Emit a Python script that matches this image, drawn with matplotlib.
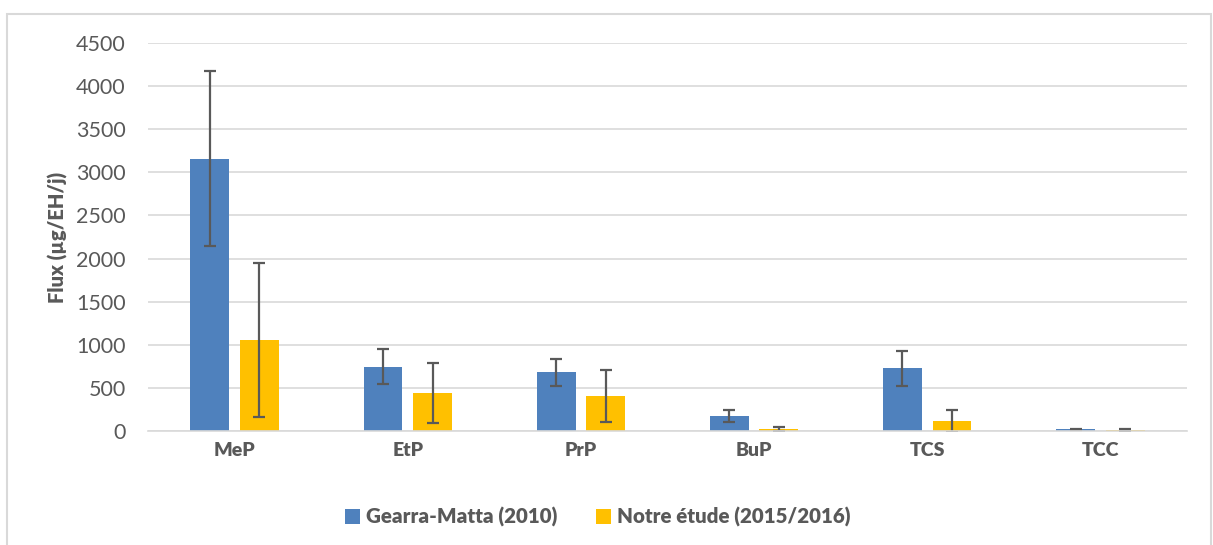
import numpy as np
import matplotlib.pyplot as plt
import matplotlib.patches as patches

plt.rcParams['font.family'] = ['Lato', 'DejaVu Sans']

# Mean flux per compound and standard deviation for each study
categories = ["MeP", "EtP", "PrP", "BuP", "TCS", "TCC"]
gearra_mean = [3160, 748, 683, 175, 725, 22]
gearra_err = [1015, 203, 157, 74, 203, 5]
notre_mean = [1058, 443, 403, 22, 116, 12]
notre_err = [890, 350, 302, 20, 128, 8]

series_labels = ["Gearra-Matta (2010)", "Notre étude (2015/2016)"]
blue = "#4F81BD"
yellow = "#FFC000"
text_grey = "#595959"
grid_grey = "#D9D9D9"

fig = plt.figure(figsize=(12.13, 5.45), dpi=100)
ax = fig.add_axes([148 / 1213, 1 - 431 / 545, (1187 - 148) / 1213, (431 - 43) / 545])

# light outer frame of the chart area
frame = patches.Rectangle((7 / 1213, -0.05), (1211 - 7) / 1213, 1 - 14 / 545 + 0.05,
                          transform=fig.transFigure, fill=False,
                          edgecolor=grid_grey, linewidth=1.5, zorder=0)
fig.patches.append(frame)

x = np.arange(len(categories))
width = 0.225
offset = 0.143
err_style = dict(ecolor=text_grey, elinewidth=1.6, capsize=4.5, capthick=1.6)

ax.bar(x - offset, gearra_mean, width, color=blue, label=series_labels[0],
       yerr=gearra_err, error_kw=err_style, zorder=3)
ax.bar(x + offset, notre_mean, width, color=yellow, label=series_labels[1],
       yerr=notre_err, error_kw=err_style, zorder=3)

ax.set_xlim(-0.5, len(categories) - 0.5)
ax.set_ylim(0, 4500)
ax.set_yticks(np.arange(0, 4501, 500))
ax.set_xticks(x)
ax.set_xticklabels(categories, fontsize=14, fontweight="heavy", color=text_grey)
ax.tick_params(axis="y", labelsize=15.5, colors=text_grey, length=0, pad=16)
ax.tick_params(axis="x", length=0, pad=8)

ax.yaxis.grid(True, color=grid_grey, linewidth=1.2)
ax.set_axisbelow(True)
for side in ["top", "right", "left"]:
    ax.spines[side].set_visible(False)
ax.spines["bottom"].set_color(grid_grey)
ax.spines["bottom"].set_linewidth(1.2)
ax.spines["bottom"].set_zorder(4)

ax.set_ylabel("Flux (µg/EH/j)", fontsize=14.5, fontweight="heavy", color=text_grey, labelpad=6)

leg = fig.legend(loc="center", bbox_to_anchor=(598 / 1213, 1 - 517 / 545), ncol=2,
                 frameon=False, fontsize=14.8, handlelength=0.7, handleheight=0.7,
                 handletextpad=0.3, columnspacing=1.9)
for t in leg.get_texts():
    t.set_color(text_grey)
    t.set_fontweight("heavy")

fig.savefig("out.png", dpi=100)
